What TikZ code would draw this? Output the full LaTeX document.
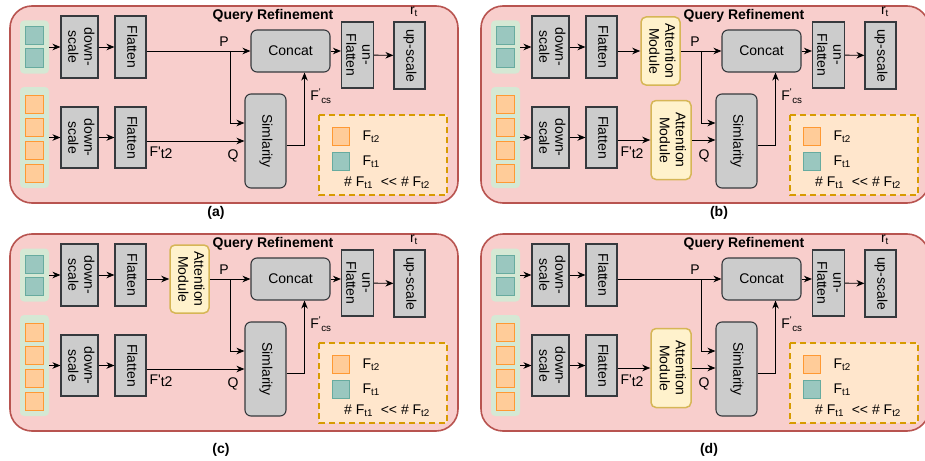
\documentclass[tikz,border=0pt]{standalone}
\usepackage{fontspec}
\setmainfont{Liberation Sans}
\usepackage{graphicx}
\usepackage{xcolor}
\usepackage{tikz}
\usetikzlibrary{arrows.meta}

\definecolor{qrfill}{HTML}{F8CECC}
\definecolor{qrdraw}{HTML}{B85450}
\definecolor{grpfill}{HTML}{D5E8D4}
\definecolor{tealfill}{HTML}{9AC7BF}
\definecolor{tealdraw}{HTML}{67AB9F}
\definecolor{orgfill}{HTML}{FFCC99}
\definecolor{orgdraw}{HTML}{FF9933}
\definecolor{opfill}{HTML}{CCCCCC}
\definecolor{opdraw}{HTML}{36393D}
\definecolor{attfill}{HTML}{FFF2CC}
\definecolor{attdraw}{HTML}{D6B656}
\definecolor{legfill}{HTML}{FFE6CC}
\definecolor{legdraw}{HTML}{D79B00}

\newcommand{\vtext}[1]{\rotatebox{-90}{\begin{tabular}{@{}c@{}}#1\end{tabular}}}

\begin{document}
\begin{tikzpicture}[x=1pt, y=-1pt, >={Stealth[length=8pt, width=6.5pt, inset=2.5pt]},
        font=\fontsize{14}{16}\selectfont,
        panel/.style={draw=qrdraw, fill=qrfill, line width=1.6pt, rounded corners=22pt},
        group/.style={fill=grpfill, rounded corners=4pt, minimum width=29pt, inner sep=0pt},
        tealsq/.style={draw=tealdraw, fill=tealfill, line width=1pt, minimum size=18pt, inner sep=0pt},
        orgsq/.style={draw=orgdraw, fill=orgfill, line width=1pt, minimum size=18pt, inner sep=0pt},
        op/.style={draw=opdraw, fill=opfill, line width=1.1pt, inner sep=0pt},
        rop/.style={op, rounded corners=6pt},
        att/.style={draw=attdraw, fill=attfill, line width=1.5pt, rounded corners=5pt, inner sep=0pt},
        legend/.style={draw=legdraw, fill=legfill, line width=1.5pt, dash pattern=on 6pt off 4pt},
        title/.style={font=\fontsize{14}{16}\selectfont\bfseries},
        flow/.style={->, line width=0.9pt}]

    \useasboundingbox (0,0) rectangle (925,460);

    \foreach \pan/\ox/\oy/\atta/\attb in {a/0/0/0/0, b/471/0/1/1, c/0/228/1/0, d/471/228/0/1} {
    \begin{scope}[shift={(\ox,\oy)}]
        \draw[panel] (10,6) rectangle (458,203);
        \node[title] (\pan-title) at (273,16) {Query Refinement};

        \node[group, minimum height=53pt] (\pan-g1) at (34.5,47) {};
        \node[group, minimum height=101pt] (\pan-g2) at (34.5,137.5) {};
        \node[tealsq] (\pan-t1) at (34,36) {};
        \node[tealsq] (\pan-t2) at (34,58) {};
        \node[orgsq] (\pan-o1) at (34,104) {};
        \node[orgsq] (\pan-o2) at (34,127) {};
        \node[orgsq] (\pan-o3) at (34,150) {};
        \node[orgsq] (\pan-o4) at (34,173) {};

        \node[op, minimum width=37pt, minimum height=62pt] (\pan-ds1) at (79.5,47) {\vtext{down-\\scale}};
        \node[op, minimum width=31pt, minimum height=62pt] (\pan-fl1) at (130.5,47) {\vtext{Flatten}};
        \node[op, minimum width=37pt, minimum height=61pt] (\pan-ds2) at (79.5,137.5) {\vtext{down-\\scale}};
        \node[op, minimum width=31pt, minimum height=61pt] (\pan-fl2) at (130.5,137.5) {\vtext{Flatten}};
        \node[rop, minimum width=79pt, minimum height=42pt] (\pan-cc) at (290.5,51) {Concat};
        \node[rop, minimum width=41pt, minimum height=94pt] (\pan-sim) at (265.5,141) {\vtext{Simlarity}};
        \node[op, minimum width=31pt, minimum height=66pt] (\pan-uf) at (357.5,55) {\vtext{un-\\Flatten}};
        \node[op, minimum width=31pt, minimum height=67pt] (\pan-us) at (409.5,55.5) {\vtext{up-scale}};
        \node (\pan-rt) at (414,12) {r\textsubscript{t}};

        \draw[flow] (\pan-g1) -- (\pan-ds1);
        \draw[flow] (\pan-g2) -- (\pan-ds2);
        \draw[flow] (\pan-ds1) -- (\pan-fl1);
        \draw[flow] (\pan-ds2) -- (\pan-fl2);

        \ifnum\atta=1
            \node[att, minimum width=39pt, minimum height=68pt] (\pan-at1) at (189.5,51) {\vtext{Attention\\Module}};
            \draw[flow] (\pan-fl1.east |- \pan-at1) -- (\pan-at1);
            \draw[flow] (\pan-at1) -- (\pan-cc);
        \else
            \draw[flow] (\pan-fl1.east |- \pan-cc) -- (\pan-cc);
        \fi
        \coordinate (\pan-br) at (230,51);
        \draw[flow] (\pan-br) |- ([yshift=18pt]\pan-sim.west);

        \ifnum\attb=1
            \node[att, minimum width=40pt, minimum height=79pt] (\pan-at2) at (200,140) {\vtext{Attention\\Module}};
            \draw[flow] (\pan-fl2.east |- \pan-at2) -- (\pan-at2);
            \draw[flow] (\pan-at2) -- (\pan-at2 -| \pan-sim.west);
        \else
            \draw[flow] (\pan-fl2.east |- \pan-sim) -- (\pan-sim);
        \fi

        \draw[flow] ([yshift=-4pt]\pan-sim.east) -| ([xshift=14pt]\pan-cc.south);
        \draw[flow] (\pan-cc) -- (\pan-cc -| \pan-uf.west);
        \draw[flow] (\pan-uf) -- (\pan-us);

        \node (\pan-P) at (224,42) {P};
        \node (\pan-Q) at (233,156) {Q};
        \node (\pan-Ft) at (161,153) {F\textquotesingle\raisebox{-2pt}{t2}};
        \node (\pan-Fcs) at (321,96) {F\textsuperscript{\textquotesingle}\textsubscript{cs}};

        \draw[legend] (319,115) rectangle (447,195);
        \node[orgsq, minimum width=17pt] (\pan-lo) at (340.5,136) {};
        \node[tealsq, minimum width=17pt] (\pan-lt) at (340.5,161) {};
        \node[anchor=west] (\pan-lot) at (359,137) {F\textsubscript{t2}};
        \node[anchor=west] (\pan-ltt) at (359,162) {F\textsubscript{t1}};
        \node (\pan-rel) at (387,183) {\# F\textsubscript{t1}\ \ <{}< \# F\textsubscript{t2}};
    \end{scope}
    }

    \node[title] (capa) at (216,213) {(a)};
    \node[title] (capb) at (719,213) {(b)};
    \node[title] (capc) at (221,450) {(c)};
    \node[title] (capd) at (709,450) {(d)};
\end{tikzpicture}
\end{document}
